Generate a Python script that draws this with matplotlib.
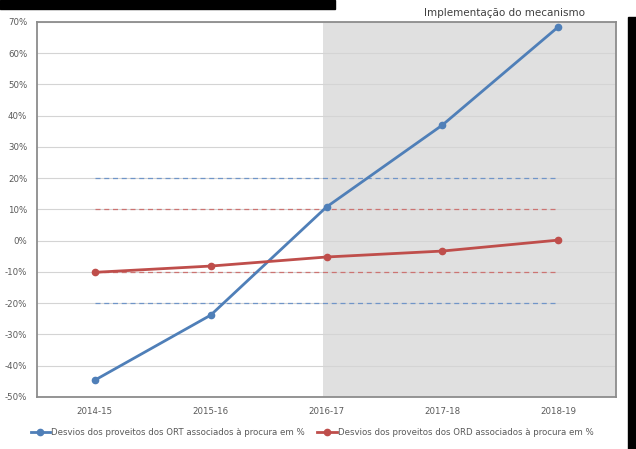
import matplotlib.pyplot as plt
from matplotlib.patches import Rectangle
from matplotlib.ticker import FuncFormatter

plt.rcParams['font.family'] = ['Liberation Sans Narrow', 'DejaVu Sans']

years = ['2014-15', '2015-16', '2016-17', '2017-18', '2018-19']
ort = [-44.6, -23.8, 10.8, 37.0, 68.4]
ord_ = [-10.1, -8.1, -5.2, -3.3, 0.2]
ort_band = 20
ord_band = 10

label_ort = 'Desvios dos proveitos dos ORT associados à procura em %'
label_ord = 'Desvios dos proveitos dos ORD associados à procura em %'

blue = '#4f7fb8'
red = '#bf4e4b'

fig = plt.figure(figsize=(6.36, 4.49), dpi=100)
ax = fig.add_axes([37 / 636, 1 - 397 / 449, 579 / 636, 375 / 449])

x = list(range(len(years)))

# shaded implementation period
ax.axvspan(1.97, 4.5, color='#e0e0e0', zorder=0, lw=0)

# tolerance bands
dash = (0, (4, 3))
ax.plot([0, 4], [ort_band, ort_band], color='#7095c8', lw=0.9, ls=dash, zorder=2)
ax.plot([0, 4], [-ort_band, -ort_band], color='#7095c8', lw=0.9, ls=dash, zorder=2)
ax.plot([0, 4], [ord_band, ord_band], color='#cc7472', lw=0.9, ls=dash, zorder=2)
ax.plot([0, 4], [-ord_band, -ord_band], color='#cc7472', lw=0.9, ls=dash, zorder=2)

ax.plot(x, ort, color=blue, lw=2, marker='o', ms=4.5, label=label_ort, zorder=4)
ax.plot(x, ord_, color=red, lw=2, marker='o', ms=4.5, label=label_ord, zorder=4)

ax.set_xlim(-0.5, 4.5)
ax.set_ylim(-50, 70)
ax.set_yticks(range(-50, 71, 10))
ax.yaxis.set_major_formatter(FuncFormatter(lambda v, p: f'{int(v)}%'))
ax.set_xticks(x)
ax.set_xticklabels(years)
ax.grid(axis='y', color='#d4d4d4', lw=0.8, zorder=1)
ax.set_axisbelow(True)
ax.tick_params(length=0, labelsize=6.2, colors='#595959', pad=7)
for s in ax.spines.values():
    s.set_color('#8c8c8c')
    s.set_linewidth(1.3)

ax.legend(loc='center', bbox_to_anchor=(0.475, -0.095), ncol=2, frameon=False,
          fontsize=6.2, labelcolor='#595959', handlelength=2.3, columnspacing=1.4,
          handletextpad=0.1, borderpad=0)

fig.text(505 / 636, 1 - 13 / 449, 'Implementação do mecanismo', ha='center', va='center',
         fontsize=7.5, color='#404040')

# black bars along the top and right edges of the original image
fig.patches.append(Rectangle((0, 1 - 9 / 449), 335 / 636, 9 / 449, transform=fig.transFigure,
                             color='black', zorder=10))
fig.patches.append(Rectangle((628 / 636, 0), 8 / 636, 1 - 17 / 449, transform=fig.transFigure,
                             color='black', zorder=10))

fig.savefig('out.png', dpi=100)
